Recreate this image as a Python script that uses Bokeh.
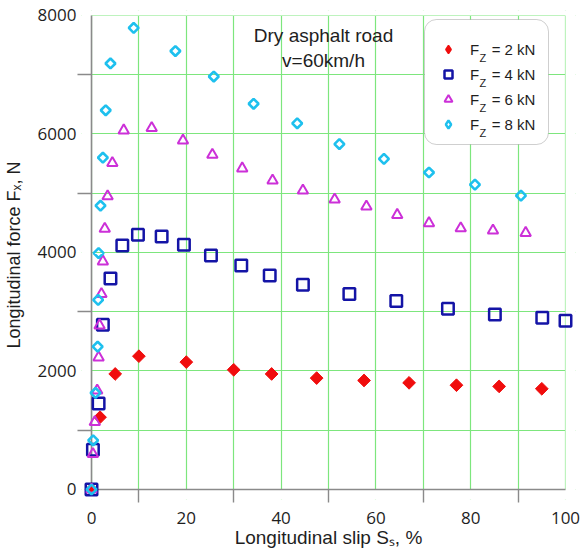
import math
from bokeh.plotting import figure
from bokeh.models import (Range1d, FixedTicker, Label, Legend, LegendItem, BoxAnnotation)
from bokeh.embed import file_html
from bokeh.resources import INLINE

# ---------------- data ----------------
slip_2kn = [0, 1.8, 5, 10, 20, 30, 38, 47.5, 57.5, 67, 77, 86, 95]
fx_2kn = [0, 1220, 1950, 2250, 2150, 2020, 1950, 1880, 1840, 1800, 1760, 1740, 1700]

slip_4kn = [0, 0.3, 1.5, 2.4, 4, 6.5, 9.8, 14.8, 19.5, 25.2, 31.6, 37.6, 44.6, 54.4, 64.3, 75.2, 85.1, 95.1, 100]
fx_4kn = [0, 670, 1450, 2780, 3560, 4120, 4300, 4270, 4130, 3950, 3780, 3610, 3455, 3300, 3180, 3050, 2955, 2900, 2850]

slip_6kn = [0, 0.3, 0.7, 1.2, 1.5, 1.7, 2.1, 2.4, 2.8, 3.4, 4.4, 6.8, 12.7, 19.3, 25.5, 31.8, 38.2, 44.6, 51.3, 58, 64.5, 71.2, 77.9, 84.7, 91.6]
fx_6kn = [0, 600, 1140, 1670, 2230, 2770, 3300, 3850, 4400, 4950, 5510, 6060, 6100, 5890, 5650, 5420, 5215, 5045, 4895, 4775, 4635, 4495, 4410, 4370, 4330]

slip_8kn = [0, 0.35, 0.85, 1.3, 1.4, 1.5, 1.9, 2.4, 3.0, 4.0, 8.9, 17.7, 25.8, 34.2, 43.4, 52.3, 61.7, 71.2, 80.9, 90.6]
fx_8kn = [0, 830, 1630, 2410, 3200, 3990, 4790, 5600, 6400, 7190, 7790, 7400, 6970, 6510, 6180, 5830, 5580, 5350, 5145, 4960]

series_labels = ["F   = 2 kN", "F   = 4 kN", "F   = 6 kN", "F   = 8 kN"]
x_title = "Longitudinal slip S\u209b, %"
y_title = "Longitudinal force F\u2093, N"
x_tick_labels = [0, 20, 40, 60, 80, 100]
x_minor_ticks = [10, 30, 50, 70, 90]
x_grid = [0, 10, 20, 30, 40, 50, 60, 70, 80, 90, 100]
y_tick_labels = [0, 2000, 4000, 6000, 8000]
y_minor_ticks = [1000, 3000, 5000, 7000]
y_grid = [0, 1000, 2000, 3000, 4000, 5000, 6000, 7000, 8000]
X_MIN, X_MAX = 0, 100
Y_MIN, Y_MAX = 0, 8000

# ---------------- styles ----------------
RED = "#F00D0D"
BLUE = "#1414A6"
MAGENTA = "#CC30D8"
CYAN = "#1EC0EE"
GRID = "#7DE67D"
AXIS = "#8A8A8A"
TXT = "#1E1E1E"
SANS = "Liberation Sans"
TICKFONT = "Open Sans"

FRAME_L, FRAME_B = 81, 499

p = figure(frame_width=494, frame_height=489,
           min_border_left=81, min_border_right=5, min_border_top=10, min_border_bottom=50,
           x_range=Range1d(-2.11, 102.11), y_range=Range1d(-168.8, 8084.0),
           output_backend="svg", toolbar_location=None)
p.outline_line_color = None
p.background_fill_color = "white"
p.border_fill_color = "white"

# grid
p.xgrid.ticker = FixedTicker(ticks=x_grid)
p.ygrid.ticker = FixedTicker(ticks=y_grid)
for g in (p.xgrid, p.ygrid):
    g.grid_line_color = GRID
    g.grid_line_width = 1.2

# masks so the grid stops at the data box
for kw in (dict(top=Y_MIN), dict(right=X_MIN), dict(left=X_MAX), dict(bottom=Y_MAX)):
    p.add_layout(BoxAnnotation(fill_color="white", fill_alpha=1.0, line_color=None,
                               level="underlay", **kw))

# legend box (white, rounded) drawn under the glyph level
p.add_layout(BoxAnnotation(left=424 - FRAME_L, right=548 - FRAME_L,
                           top=FRAME_B - 19, bottom=FRAME_B - 144,
                           left_units="screen", right_units="screen",
                           top_units="screen", bottom_units="screen",
                           fill_color="white", fill_alpha=1.0,
                           line_color="#606060", line_width=1, border_radius=12,
                           level="underlay"))

# axes (drawn at frame edges; visible axis lines drawn at the data box below)
xa = p.xaxis[0]
xa.ticker = FixedTicker(ticks=x_tick_labels, minor_ticks=x_minor_ticks)
xa.major_label_standoff = 9
xa.minor_tick_in = 10
xa.minor_tick_out = 3
xa.axis_label = x_title
xa.axis_label_standoff = 0
xa.axis_label_text_font_size = "19px"
ya = p.yaxis[0]
ya.ticker = FixedTicker(ticks=y_tick_labels, minor_ticks=y_minor_ticks)
ya.major_label_standoff = 1
ya.minor_tick_in = 10
ya.minor_tick_out = 4
ya.axis_label = y_title
ya.axis_label_standoff = 11
ya.axis_label_text_font_size = "18px"
for ax in (xa, ya):
    ax.axis_line_color = None
    ax.major_tick_out = 0
    ax.major_tick_in = 0
    ax.minor_tick_line_color = AXIS
    ax.minor_tick_line_width = 1.4
    ax.major_label_text_font = TICKFONT
    ax.major_label_text_font_size = "17px"
    ax.major_label_text_color = TXT
    ax.axis_label_text_font = SANS
    ax.axis_label_text_font_style = "normal"
    ax.axis_label_text_color = TXT

# axis lines along the data box edges
p.segment(x0=[X_MIN, X_MIN], y0=[Y_MIN, Y_MIN], x1=[X_MIN, X_MAX], y1=[Y_MAX, Y_MIN],
          line_color=AXIS, line_width=1.6)

# data
r2 = p.scatter(slip_2kn, fx_2kn, marker="square", angle=math.pi / 4, size=9,
               fill_color=RED, line_color=RED, line_width=1)
r4 = p.scatter(slip_4kn, fx_4kn, marker="square", size=11.5,
               fill_color=None, line_color=BLUE, line_width=2.5)
r6 = p.scatter(slip_6kn, fx_6kn, marker="triangle", size=10.5,
               fill_color=None, line_color=MAGENTA, line_width=2)
r8 = p.scatter(slip_8kn, fx_8kn, marker="square", angle=math.pi / 4, size=7,
               fill_color=None, line_color=CYAN, line_width=2.6)

# legend swatches (non-plotted renderers so the legend shows diamonds)
nan = float("nan")
l2 = p.scatter([nan], [nan], marker="diamond", fill_color=RED, line_color=RED, line_width=1.5)
l8 = p.scatter([nan], [nan], marker="diamond", fill_color=None, line_color=CYAN, line_width=2.4)

legend = Legend(items=[LegendItem(label=series_labels[i], renderers=[r])
                       for i, r in enumerate([l2, r4, r6, l8])],
                location=(424 - FRAME_L + 14, FRAME_B - 144 + 9))
legend.margin = 0
legend.padding = 13
legend.spacing = 3
legend.glyph_width = 20
legend.glyph_height = 22
legend.label_height = 22
legend.label_standoff = 12
legend.label_text_font = SANS
legend.label_text_font_size = "15px"
legend.label_text_color = TXT
legend.border_line_color = None
legend.background_fill_alpha = 0.0
p.add_layout(legend)

# subscripts "Z" in the legend
for i in range(4):
    p.add_layout(Label(x=479 - FRAME_L, y=FRAME_B - (57 + 25 * i), x_units="screen", y_units="screen",
                       text="Z", text_font=SANS, text_font_size="11px", text_color=TXT,
                       text_align="left", text_baseline="alphabetic"))

# annotation
for txt, cy in (("Dry asphalt road", 35), ("v=60km/h", 60)):
    p.add_layout(Label(x=323 - FRAME_L, y=FRAME_B - cy, x_units="screen", y_units="screen",
                       text=txt, text_font=SANS, text_font_size="19px", text_color=TXT,
                       text_align="center", text_baseline="middle"))

open("out.html", "w").write(file_html(p, INLINE))
